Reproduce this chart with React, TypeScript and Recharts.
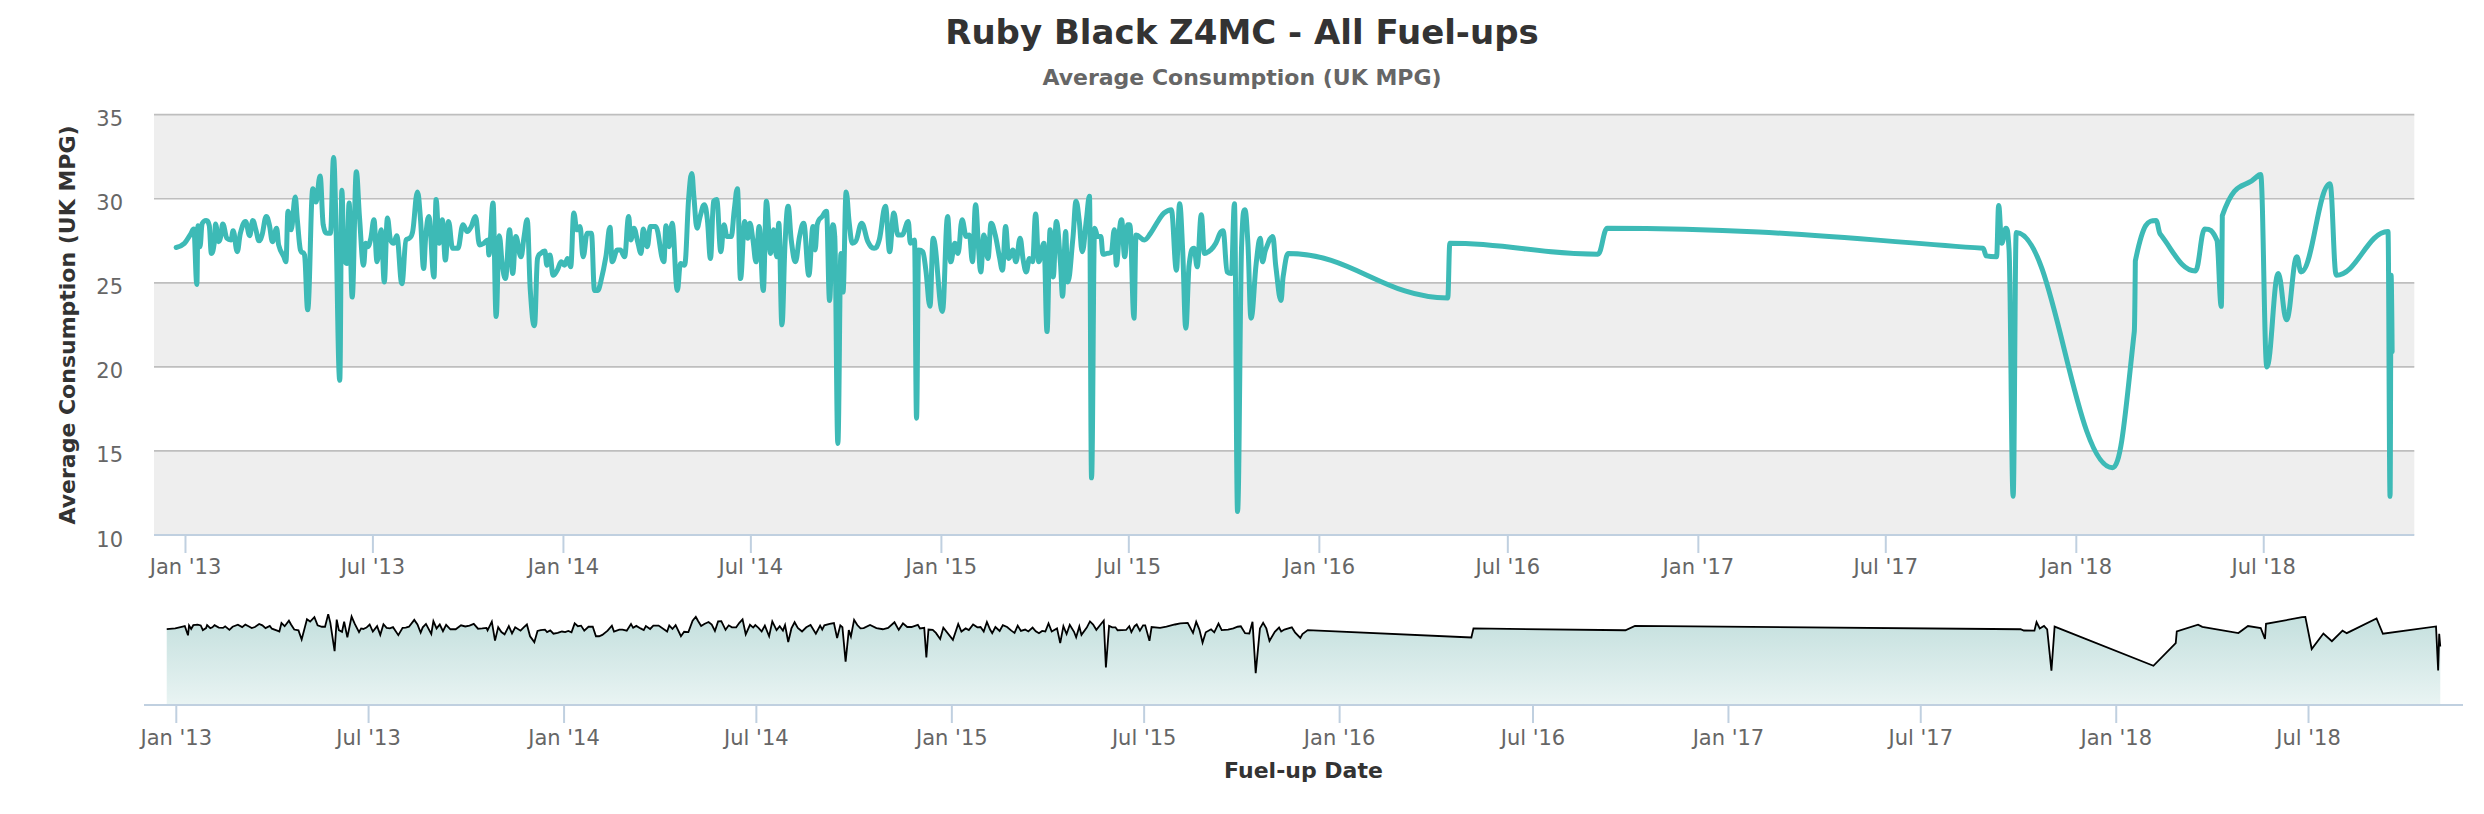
import React from 'react';
import { LineChart, Line, XAxis, YAxis, ReferenceArea, ReferenceLine, AreaChart, Area } from 'recharts';

// Fuel-up dates, as days since 1 Jan 2013
const fuelDay = [
  -9, -1, 5, 8, 11, 12, 14, 16, 20, 23, 25, 28, 29, 32, 34, 36, 40, 44, 46, 50, 53, 58, 62, 65, 68, 71, 74, 78, 81, 84, 88, 90, 95, 97, 99, 102, 106, 108, 111, 115, 118, 123, 126, 130, 133, 137, 140, 143, 145, 149, 151, 153, 156, 158, 161, 165, 168, 172, 174, 176, 179, 182, 185, 189, 192, 195, 198, 201, 204, 209, 213, 216, 219, 224, 227, 230, 232, 235, 240, 242, 245, 248, 251, 254, 258, 263, 268, 272, 276, 280, 284, 288, 292, 293, 297, 300, 303, 306, 309, 313, 316, 319, 324, 327, 330, 333, 337, 340, 343, 347,
  349, 352, 355, 359, 363, 366, 369, 372, 375, 378, 381, 384, 388, 392, 395, 398, 401, 406, 410, 412, 417, 420, 424, 428, 430, 433, 437, 440, 442, 446, 449, 454, 462, 464, 467, 470, 475, 478, 482, 486, 489, 491, 494, 497, 501, 504, 507, 510, 513, 517, 520, 523, 527, 530, 533, 536, 540, 543, 545, 548, 551, 554, 558, 561, 565, 568, 571, 573, 576, 579, 582, 585, 589, 593, 597, 602, 606, 608, 610, 615, 619, 622, 625, 627, 630, 633, 635, 638, 641, 644, 647, 653, 659, 665, 670, 676, 680, 684, 688, 692, 698, 700, 704, 706, 708, 712, 715, 719, 722,
  731, 736, 739, 743, 746, 750, 754, 757, 760, 763, 766, 768, 771, 775, 778, 782, 786, 789, 792, 795, 799, 802, 806, 809, 812, 815, 818, 821, 824, 829, 832, 835, 838, 841, 845, 847, 850, 852, 857, 860, 863, 866, 870, 873, 875, 878, 881, 884, 886, 890, 894, 897, 899, 902, 904, 907, 910, 912, 916, 918, 926, 932, 940, 945, 952, 957, 960, 963, 966, 969, 974, 977, 981, 984, 990, 995, 999, 1002, 1006, 1010, 1013, 1016, 1020, 1023, 1026, 1029, 1034, 1038, 1040, 1043, 1050, 1053, 1058, 1060, 1065,
  1219, 1221, 1364, 1373, 1736, 1739, 1749, 1751, 1754, 1758, 1761, 1765, 1768, 1861, 1882, 1883, 1903, 1907, 1941, 1950, 1962, 1966, 1967, 2001, 2004, 2010, 2021, 2029, 2039, 2043, 2071, 2077, 2127, 2129, 2130, 2131,
];

// Average consumption (UK MPG) for each fuel-up
const mpg = [
  27.1, 27.35, 27.9, 28.2, 24.9, 28.4, 27.15, 28.5, 28.7, 28.4, 26.75, 27.45, 28.5, 27.45, 27.75, 28.5, 27.65, 27.55, 28.1, 26.85, 27.95, 28.65, 27.8, 28.7, 28.15, 27.5, 27.85, 28.95, 28.45, 27.45, 28.25, 27.25, 26.55, 26.25, 29.25, 28.15, 30.1, 28.75, 26.95, 26.65, 23.4, 30.6, 29.8, 31.35, 28.45, 27.95, 27.95, 32.45, 29.35, 19.2, 30.5, 26.75, 26.15, 29.75, 24.15, 31.6, 28.95, 26.05, 27.35, 27.15, 27.65, 28.75, 26.25, 28.15, 25.05, 28.85, 27.55, 27.35, 27.8, 24.95, 27.55, 27.65, 27.95, 30.4, 28.75, 25.85, 27.75, 28.95, 25.35, 29.95, 27.35, 28.75, 26.35, 28.65, 27.05, 27.05, 28.45, 28.05, 28.35, 28.95, 27.25, 27.35, 27.55, 26.65, 29.75, 23.0, 27.8, 26.05, 25.25, 28.15, 25.55, 27.75, 26.55, 27.75, 28.75, 24.55, 22.45, 26.45, 26.75, 26.9,
  26.05, 26.65, 25.45, 25.75, 26.25, 26.05, 26.45, 25.95, 29.15, 28.15, 28.35, 26.55, 27.95, 27.95, 24.55, 24.55, 25.05, 26.55, 28.3, 26.25, 26.95, 26.95, 26.55, 28.95, 27.55, 28.25, 27.35, 26.75, 28.2, 27.15, 28.35, 28.35, 26.25, 28.4, 27.15, 28.55, 24.55, 26.15, 26.05, 30.1, 31.5, 30.1, 28.25, 28.95, 29.65, 28.75, 26.45, 29.85, 29.95, 26.85, 28.45, 27.75, 27.75, 29.35, 30.6, 25.25, 28.65, 27.65, 28.55, 27.55, 26.25, 28.35, 24.55, 29.85, 26.75, 28.15, 26.55, 28.55, 22.5, 27.35, 29.55, 27.55, 26.25, 27.75, 28.55, 25.45, 28.35, 26.95, 28.45, 28.95, 29.25, 23.95, 28.45, 27.75, 15.45, 26.75, 24.45, 30.4, 28.55, 27.35, 27.45, 28.55, 27.45, 27.05, 27.55, 29.55, 26.85, 29.15, 27.85, 27.85, 28.65, 27.35, 27.55, 16.95, 26.95, 26.85, 25.75, 23.6, 27.65,
  23.3, 28.95, 26.25, 27.35, 26.75, 28.75, 27.75, 27.85, 26.25, 29.65, 26.95, 25.65, 27.85, 26.45, 28.55, 27.85, 26.55, 25.75, 28.35, 26.45, 26.95, 26.25, 27.65, 26.35, 25.65, 26.45, 26.25, 29.1, 26.25, 27.35, 22.1, 28.15, 25.35, 28.65, 26.15, 24.2, 28.05, 25.05, 27.65, 29.85, 28.75, 26.85, 28.75, 30.15, 13.4, 28.25, 27.75, 27.75, 26.7, 26.75, 26.8, 28.15, 26.05, 28.15, 28.75, 26.55, 28.45, 28.45, 22.9, 27.85, 27.55, 27.95, 28.75, 29.15, 29.35, 25.75, 29.7, 26.95, 22.3, 25.95, 27.05, 25.95, 29.05, 26.75, 26.95, 27.35, 27.95, 28.1, 25.65, 25.55, 29.7, 11.4, 27.35, 29.35, 27.35, 22.9, 26.15, 27.65, 26.25, 26.95, 27.75, 25.95, 23.95, 25.35, 26.75,
  24.1, 27.35, 26.7, 28.25, 27.05, 26.6, 26.55, 29.6, 27.35, 28.25, 27.0, 12.3, 28.0, 14.0, 22.1, 26.3, 28.7, 27.9, 25.7, 28.2, 27.5, 23.6, 29.0, 31.35, 31.45, 20.0, 25.55, 22.8, 26.55, 25.65, 30.9, 25.45, 28.05, 12.3, 25.45, 20.9,
];

const tickDates = ['2013-01-01', '2013-07-01', '2014-01-01', '2014-07-01', '2015-01-01', '2015-07-01', '2016-01-01', '2016-07-01', '2017-01-01', '2017-07-01', '2018-01-01', '2018-07-01'];
const tickLabels = ["Jan '13", "Jul '13", "Jan '14", "Jul '14", "Jan '15", "Jul '15", "Jan '16", "Jul '16", "Jan '17", "Jul '17", "Jan '18", "Jul '18"];
const yTicks = [10, 15, 20, 25, 30, 35];
const bandFrom = [10, 20, 30];
const bandTo = [15, 25, 35];

const TITLE = 'Ruby Black Z4MC - All Fuel-ups';
const SUBTITLE = 'Average Consumption (UK MPG)';
const Y_TITLE = 'Average Consumption (UK MPG)';
const X_TITLE = 'Fuel-up Date';

const FONT = '"DejaVu Sans", "Noto Sans", sans-serif';
const TEAL = '#3dbab6';
const AXIS_BLUE = '#c0d0e0';

const EPOCH = Date.parse('2013-01-01T00:00:00Z');
const tickDays = tickDates.map((s) => Math.round((Date.parse(s + 'T00:00:00Z') - EPOCH) / 86400000));
const data = fuelDay.map((d, i) => ({ day: d, mpg: mpg[i] }));
const lo = Math.min(...fuelDay);
const hi = Math.max(...fuelDay);
const pad = (hi - lo) * 0.01;
const xDomain: [number, number] = [lo - pad, hi + pad];

// Highcharts-style spline curve factory
function hcSpline(context: any) {
  let xs: number[] = [];
  let ys: number[] = [];
  return {
    areaStart() {},
    areaEnd() {},
    lineStart() {
      xs = [];
      ys = [];
    },
    point(x: number, y: number) {
      xs.push(+x);
      ys.push(+y);
    },
    lineEnd() {
      const n = xs.length;
      if (!n) return;
      context.moveTo(xs[0], ys[0]);
      if (n === 1) return;
      const sm = 1.5;
      const den = sm + 1;
      const lcx = xs.slice(), lcy = ys.slice(), rcx = xs.slice(), rcy = ys.slice();
      for (let i = 1; i < n - 1; i++) {
        const px = xs[i], py = ys[i], lx = xs[i - 1], ly = ys[i - 1], nx = xs[i + 1], ny = ys[i + 1];
        const leftContX = (sm * px + lx) / den;
        let leftContY = (sm * py + ly) / den;
        const rightContX = (sm * px + nx) / den;
        let rightContY = (sm * py + ny) / den;
        if (rightContX !== leftContX) {
          const corr = ((rightContY - leftContY) * (rightContX - px)) / (rightContX - leftContX) + py - rightContY;
          leftContY += corr;
          rightContY += corr;
        }
        if (leftContY > ly && leftContY > py) {
          leftContY = Math.max(ly, py);
          rightContY = 2 * py - leftContY;
        } else if (leftContY < ly && leftContY < py) {
          leftContY = Math.min(ly, py);
          rightContY = 2 * py - leftContY;
        }
        if (rightContY > ny && rightContY > py) {
          rightContY = Math.max(ny, py);
          leftContY = 2 * py - rightContY;
        } else if (rightContY < ny && rightContY < py) {
          rightContY = Math.min(ny, py);
          leftContY = 2 * py - rightContY;
        }
        lcx[i] = leftContX;
        lcy[i] = leftContY;
        rcx[i] = rightContX;
        rcy[i] = rightContY;
      }
      for (let i = 1; i < n; i++) {
        context.bezierCurveTo(rcx[i - 1], rcy[i - 1], lcx[i], lcy[i], xs[i], ys[i]);
      }
    },
  };
}

const labelFor = (v: number) => {
  const i = tickDays.indexOf(v);
  return i >= 0 ? tickLabels[i] : '';
};

const MainXTick = (props: any) => (
  <text x={props.x} y={props.y + 21} textAnchor="middle" fill="#666666" fontSize={21} fontFamily={FONT}>
    {labelFor(props.payload.value)}
  </text>
);

const NavXTick = (props: any) => (
  <text x={props.x} y={props.y + 22} textAnchor="middle" fill="#666666" fontSize={21} fontFamily={FONT}>
    {labelFor(props.payload.value)}
  </text>
);

const MainYTick = (props: any) => (
  <text x={123} y={props.y + 11.5} textAnchor="end" fill="#666666" fontSize={21} fontFamily={FONT}>
    {props.payload.value}
  </text>
);

export default function App() {
  return (
    <div style={{ position: 'absolute', left: 0, top: 0, width: 2484, height: 814, background: '#ffffff', overflow: 'hidden' }}>
      <div style={{ position: 'absolute', left: 0, top: 0 }}>
        <LineChart width={2484} height={600} data={data} margin={{ top: 114.7, right: 69.7, bottom: 0, left: 94 }}>
          {bandFrom.map((b, i) => (
            <ReferenceArea key={'band' + i} y1={b} y2={bandTo[i]} fill="#eeeeee" fillOpacity={1} stroke="none" />
          ))}
          {yTicks.filter((t) => t !== 10).map((t) => (
            <ReferenceLine key={'g' + t} y={t} stroke="#bebebe" strokeWidth={1.7} />
          ))}
          <XAxis
            dataKey="day"
            type="number"
            domain={xDomain}
            ticks={tickDays}
            interval={0}
            height={65}
            tickSize={18}
            tickMargin={0}
            axisLine={{ stroke: AXIS_BLUE, strokeWidth: 2 }}
            tickLine={{ stroke: AXIS_BLUE, strokeWidth: 2 }}
            tick={MainXTick}
            allowDataOverflow
          />
          <YAxis
            type="number"
            domain={[10, 35]}
            ticks={yTicks}
            interval={0}
            width={60}
            axisLine={false}
            tickLine={false}
            tick={MainYTick}
            allowDataOverflow
          />
          <Line
            dataKey="mpg"
            type={hcSpline as any}
            stroke={TEAL}
            strokeWidth={5}
            strokeLinejoin="round"
            strokeLinecap="round"
            dot={false}
            activeDot={false}
            isAnimationActive={false}
          />
        </LineChart>
      </div>
      <div style={{ position: 'absolute', left: 0, top: 580 }}>
        <AreaChart width={2484} height={234} data={data} margin={{ top: 27, right: 21, bottom: 0, left: 144 }}>
          <defs>
            <linearGradient id="navFill" x1="0" y1="0" x2="0" y2="1">
              <stop offset="0%" stopColor="#c3dfdd" />
              <stop offset="100%" stopColor="#e9f4f3" />
            </linearGradient>
          </defs>
          <XAxis
            dataKey="day"
            type="number"
            domain={xDomain}
            ticks={tickDays}
            interval={0}
            height={109}
            tickSize={18}
            tickMargin={0}
            axisLine={{ stroke: AXIS_BLUE, strokeWidth: 2 }}
            tickLine={{ stroke: AXIS_BLUE, strokeWidth: 2 }}
            tick={NavXTick}
            allowDataOverflow
          />
          <YAxis hide type="number" domain={[0, 35]} />
          <Area
            dataKey="mpg"
            type="linear"
            stroke="#000000"
            strokeWidth={1.8}
            fill="url(#navFill)"
            fillOpacity={1}
            dot={false}
            activeDot={false}
            isAnimationActive={false}
          />
        </AreaChart>
      </div>
      <svg width={2484} height={814} style={{ position: 'absolute', left: 0, top: 0, pointerEvents: 'none' }}>
        <text x={1242} y={44} textAnchor="middle" fontFamily={FONT} fontSize={34} fontWeight="bold" fill="#333333">
          {TITLE}
        </text>
        <text x={1242} y={85} textAnchor="middle" fontFamily={FONT} fontSize={22} fontWeight="bold" fill="#666666">
          {SUBTITLE}
        </text>
        <text transform="translate(75,325) rotate(-90)" textAnchor="middle" fontFamily={FONT} fontSize={22} fontWeight="bold" fill="#333333">
          {Y_TITLE}
        </text>
        <text x={1303.5} y={778} textAnchor="middle" fontFamily={FONT} fontSize={22} fontWeight="bold" fill="#333333">
          {X_TITLE}
        </text>
      </svg>
    </div>
  );
}
